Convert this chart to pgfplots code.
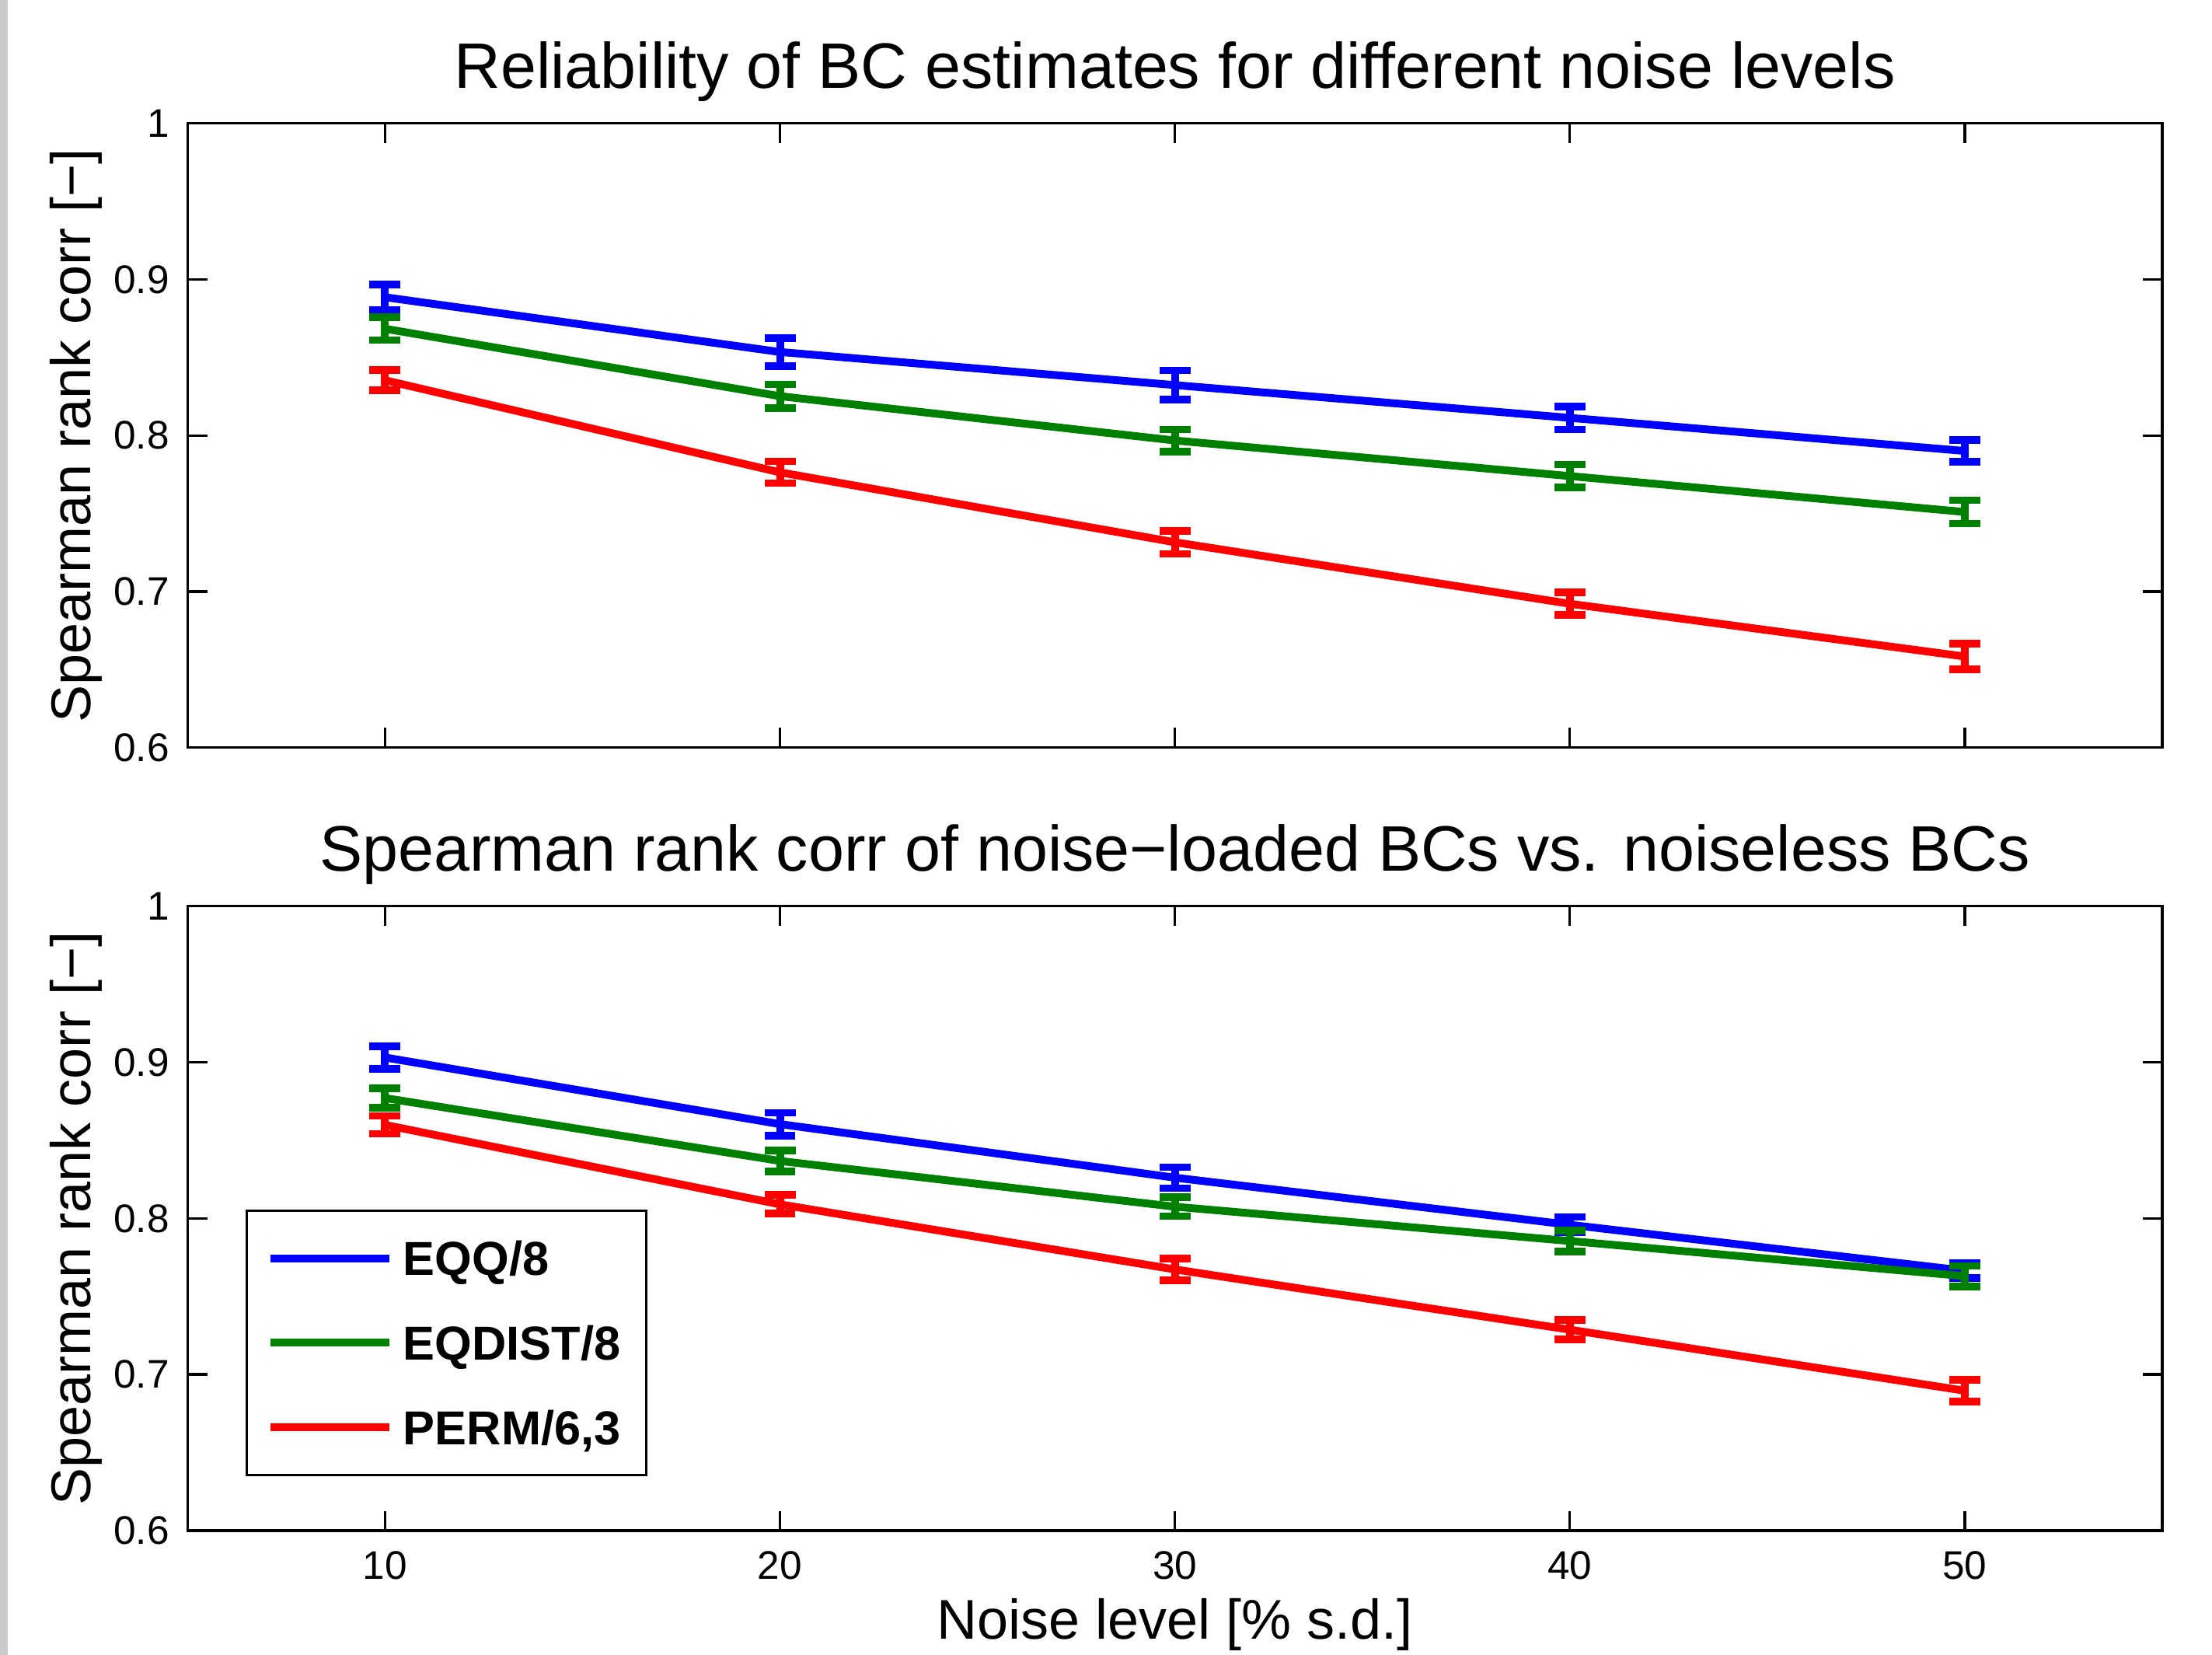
\documentclass[border=0pt]{standalone}
\usepackage{fontspec}
\setmainfont{Liberation Sans}
\usepackage{pgfplots}
\usepackage{pgfplotstable}
\pgfplotsset{compat=1.18}
\definecolor{mblue}{rgb}{0,0,1}
\definecolor{mgreen}{rgb}{0,0.5,0}
\definecolor{mred}{rgb}{1,0,0}
\definecolor{edgegray}{RGB}{200,201,201}

\pgfplotstableread{
x   b      eb     g      eg     r      er
10  0.8886 0.0081 0.8684 0.0073 0.8354 0.0064
20  0.8535 0.0090 0.8252 0.0076 0.7764 0.0070
30  0.8323 0.0094 0.7968 0.0071 0.7316 0.0074
40  0.8113 0.0074 0.7740 0.0074 0.6922 0.0073
50  0.7901 0.0070 0.7510 0.0075 0.6584 0.0083
}\toptable

\pgfplotstableread{
x   b      eb     g      eg     r      er
10  0.9031 0.0073 0.8771 0.0062 0.8599 0.0057
20  0.8604 0.0073 0.8368 0.0068 0.8090 0.0060
30  0.8261 0.0067 0.8075 0.0061 0.7673 0.0070
40  0.7959 0.0050 0.7855 0.0067 0.7287 0.0063
50  0.7665 0.0048 0.7630 0.0066 0.6896 0.0070
}\bottable

\pgfplotsset{
  common/.style={
    scale only axis, width=381.2pt, height=120.5pt,
    xmin=5, xmax=55, ymin=0.6, ymax=1,
    xtick={10,20,30,40,50}, ytick={0.6,0.7,0.8,0.9,1},
    tick align=inside, xtick pos=both, ytick pos=both,
    major tick length=3.8pt,
    axis line style={line width=0.5pt},
    every tick/.style={black, line width=0.5pt},
    tick label style={font=\fontsize{7.7}{9}\selectfont},
    xticklabel style={yshift=-0.5pt},
    /pgf/number format/assume math mode=true,
    ylabel={Spearman rank corr [−]},
    ylabel style={font=\fontsize{10.8}{13}\selectfont, at={(axis description cs:-0.049,0.5)}, anchor=base},
    title style={font=\fontsize{12.4}{15}\selectfont, at={(axis description cs:0.5,1)}, anchor=base, yshift=0.75pt},
    every axis plot/.append style={line width=1.5pt, line join=round},
    error bars/y dir=both, error bars/y explicit,
    error bars/error bar style={line width=1.5pt},
    error bars/error mark options={rotate=90, line width=1.45pt, mark size=3.0pt},
  }
}

\begin{document}
\begin{tikzpicture}
\useasboundingbox (-36.2pt,-23.96pt) rectangle (390.8pt,295.4pt);
\fill[edgegray] (-36.2pt,-23.96pt) rectangle (-34.7pt,295.4pt);

\begin{axis}[common, at={(0pt,151.1pt)}, anchor=south west,
  xticklabels={},
  title={Reliability of BC estimates for different noise levels}]
\addplot[mblue] table[x=x, y=b, y error=eb] {\toptable};
\addplot[mgreen] table[x=x, y=g, y error=eg] {\toptable};
\addplot[mred] table[x=x, y=r, y error=er] {\toptable};
\end{axis}

\begin{axis}[common, at={(0pt,0pt)}, anchor=south west,
  title={Spearman rank corr of noise−loaded BCs vs. noiseless BCs},
  xlabel={Noise level [\% s.d.]},
  xlabel style={font=\fontsize{10.8}{13}\selectfont, at={(axis description cs:0.5,0)}, anchor=base, yshift=-21pt},
  legend style={at={(axis description cs:0.0294,0.087)}, anchor=south west,
    draw=black, line width=0.5pt, fill=white,
    font=\bfseries\fontsize{9.2}{11}\selectfont,
    inner xsep=3.8pt, inner ysep=5.9pt, row sep=9.7pt,
    nodes={inner sep=0pt, text height=6.6pt, text depth=0pt},
    /tikz/every odd column/.style={column sep=1.9pt}},
  legend cell align=left,
  legend image code/.code={\path (0pt,0pt) -- (23pt,0pt); \draw[#1, line width=1.5pt, overlay] (0pt,0pt) -- (23pt,0pt);}]
\addplot[mblue] table[x=x, y=b, y error=eb] {\bottable};
\addlegendentry{EQQ/8}
\addplot[mgreen] table[x=x, y=g, y error=eg] {\bottable};
\addlegendentry{EQDIST/8\hspace*{1.2pt}}
\addplot[mred] table[x=x, y=r, y error=er] {\bottable};
\addlegendentry{PERM/6,3\hspace*{1.2pt}}
\end{axis}
\end{tikzpicture}
\end{document}
